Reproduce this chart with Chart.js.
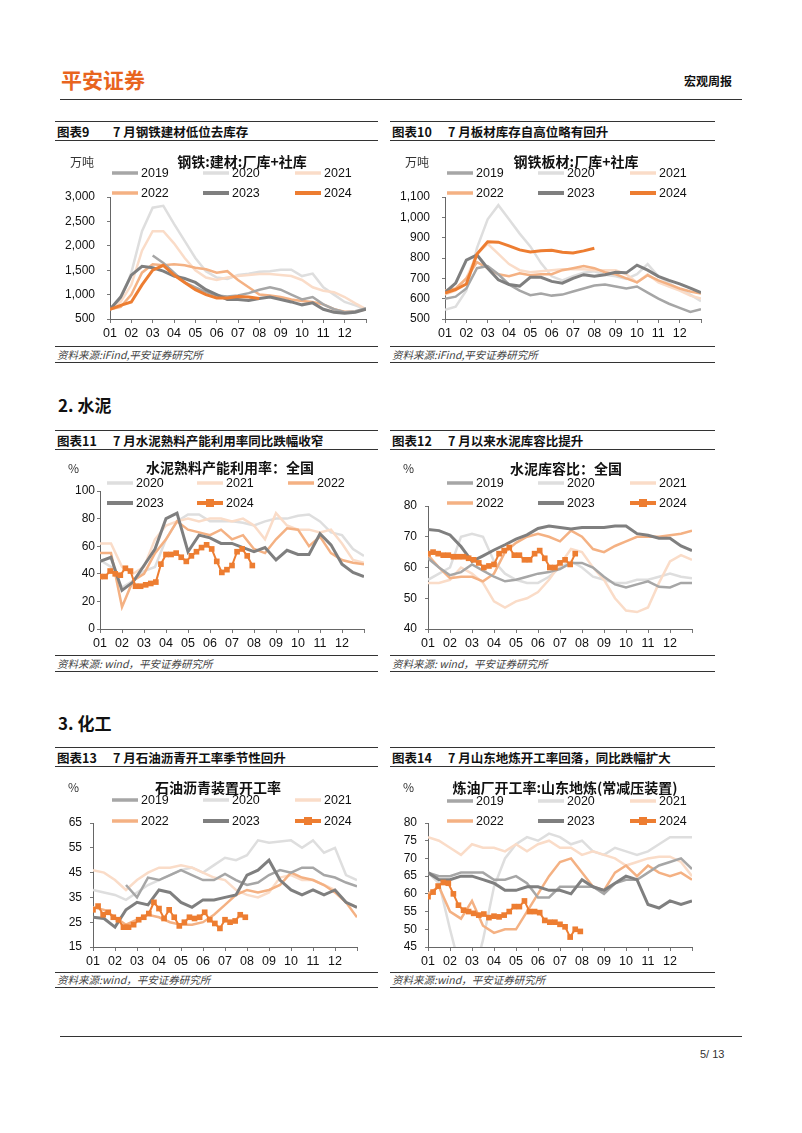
<!DOCTYPE html>
<html>
<head>
<meta charset="utf-8">
<script src="https://cdn.jsdelivr.net/npm/chart.js@4.4.1/dist/chart.umd.min.js"></script>
<style>
  body { margin: 0; background: #fff; }
  #page { position: relative; width: 802px; height: 1133px; overflow: hidden; background: #fff;
          font-family: "Noto Sans CJK SC", "Liberation Sans", sans-serif; color: #222; }
  .t { position: absolute; white-space: nowrap; }
  .rule { position: absolute; height: 0; border-top: 1.5px solid #333; }
  canvas { position: absolute; }
</style>
</head>
<body>
<div id="page"></div>
<script>
// ---- data (semi-monthly points from 01 to year end; 2024 in charts 11-14 is weekly) ----
const years = ['2019', '2020', '2021', '2022', '2023', '2024'];
const monthLabels = ['01', '02', '03', '04', '05', '06', '07', '08', '09', '10', '11', '12'];

// 图表9 钢铁:建材:厂库+社库 (万吨)
const steelBuild2019 = [null, null, null, null, 1800, 1650, 1450, 1250, 1150, 1050, 980, 960, 980, 1030, 1100, 1150, 1100, 1000, 900, 950, 800, 700, 640, 660, 720];
const steelBuild2020 = [700, 900, 1450, 2300, 2780, 2820, 2450, 2100, 1750, 1480, 1350, 1320, 1400, 1430, 1470, 1480, 1510, 1510, 1380, 1430, 1150, 1000, 850, 780, 700];
const steelBuild2021 = [700, 850, 1200, 1900, 2300, 2300, 2050, 1750, 1500, 1350, 1300, 1350, 1380, 1400, 1420, 1420, 1400, 1380, 1300, 1150, 1080, 1050, 950, 820, 700];
const steelBuild2022 = [700, 750, 1000, 1450, 1620, 1600, 1620, 1600, 1550, 1520, 1450, 1480, 1300, 1150, 1000, 980, 950, 900, 870, 850, 800, 700, 650, 650, 700];
const steelBuild2023 = [700, 950, 1400, 1580, 1550, 1480, 1380, 1330, 1250, 1100, 1000, 900, 900, 880, 920, 950, 900, 850, 790, 830, 700, 640, 620, 640, 700];
const steelBuild2024 = [700, 780, 850, 1200, 1500, 1600, 1400, 1250, 1100, 1000, 930, 930, 960, 950, 920];

// 图表10 钢铁板材:厂库+社库 (万吨)
const plate2019 = [600, 610, 650, 750, 760, 720, 670, 640, 617, 625, 615, 620, 635, 650, 665, 670, 660, 650, 660, 630, 600, 575, 555, 535, 548];
const plate2020 = [545, 560, 640, 850, 990, 1060, 990, 920, 857, 775, 710, 690, 710, 727, 735, 718, 710, 697, 720, 770, 710, 677, 645, 620, 587];
const plate2021 = [620, 640, 700, 820, 870, 820, 770, 740, 730, 735, 740, 745, 745, 745, 740, 740, 740, 720, 680, 720, 680, 660, 640, 615, 600];
const plate2022 = [640, 650, 700, 780, 750, 720, 710, 725, 715, 720, 720, 740, 750, 760, 750, 730, 720, 700, 680, 715, 690, 670, 650, 635, 625];
const plate2023 = [630, 677, 790, 815, 750, 693, 670, 662, 705, 705, 685, 676, 700, 718, 710, 718, 730, 727, 765, 740, 710, 690, 673, 652, 630];
const plate2024 = [628, 645, 672, 820, 880, 878, 860, 840, 830, 836, 838, 828, 825, 835, 848];

// 图表11 水泥熟料产能利用率：全国 (%)
const clinker2020 = [50, 45, 30, 35, 42, 45, 65, 78, 83, 83, 78, 78, 78, 77, 75, 78, 80, 80, 82, 83, 78, 70, 68, 58, 53];
const clinker2021 = [62, 62, 45, 40, 45, 65, 75, 78, 80, 78, 80, 80, 78, 80, 75, 65, 84, 75, 72, 72, 70, 72, 62, 50, 48];
const clinker2022 = [55, 55, 16, 35, 40, 55, 65, 78, 72, 70, 68, 72, 65, 68, 58, 55, 65, 73, 72, 60, 67, 55, 50, 48, 47];
const clinker2023 = [49, 52, 28, 34, 46, 58, 80, 84, 56, 68, 66, 62, 62, 59, 56, 59, 50, 57, 54, 54, 69, 61, 47, 41, 38];
const clinker2024 = [38, 38, 42, 40, 39, 44, 42, 31, 31, 32, 33, 34, 47, 54, 54, 55, 52, 49, 53, 56, 59, 61, 58, 49, 41, 43, 46, 56, 58, 53, 46];

// 图表12 水泥库容比：全国 (%)
const storage2019 = [63, 60, 57.5, 58.5, 61, 59, 57, 55.5, 56, 57, 58, 58.5, 59.5, 61.5, 61.5, 60, 57, 54.5, 53.5, 54.5, 55.5, 53.7, 53.5, 55, 55];
const storage2020 = [56, 58, 60, 70, 71, 70, 62, 58, 56, 55, 55, 57, 60, 62, 60, 57, 56, 55, 55, 56, 56, 57, 58, 57, 56.5];
const storage2021 = [55, 55, 56, 60, 58, 55, 49, 47, 49, 50, 52, 56, 61, 66, 65, 60, 56, 50, 46, 45.5, 47, 55, 62, 64, 62.5];
const storage2022 = [64, 60, 56.5, 57, 57, 55.5, 58, 65, 68, 70, 71, 70, 68.5, 72, 70, 66, 65, 67, 68.5, 70, 70, 70, 70.5, 71, 72];
const storage2023 = [72.4, 72, 70.6, 66.8, 62, 63.8, 65.7, 67.4, 69.2, 70.6, 72.7, 73.5, 73, 72.5, 73, 73, 73, 73.5, 73.5, 71, 70.5, 69.5, 69.5, 67, 65.5];
const storage2024 = [64.5, 65, 64.5, 64, 64, 63.5, 63.5, 63.5, 63, 62.5, 61.5, 60, 60.5, 61, 64.5, 65.5, 66.5, 64, 64, 62.5, 62.5, 64.5, 65.5, 63, 60, 60, 61.5, 62.5, 61, 64.5];

// 图表13 石油沥青装置开工率 (%)
const asphalt2019 = [null, null, null, 40, 35, 43, 42, 44, 46, 44, 42, 42, 44.5, 42, 40, 41, 44, 46, 45, 47, 47, 44, 43, 41, 39.5];
const asphalt2020 = [38, 37, 36, 34, 37, 40, 42, 44, 46, 47, 45, 48, 51, 50, 52, 58, 57, 57.5, 58, 55, 58, 53, 55, 44, 42];
const asphalt2021 = [46, 45, 42, 38, 42, 45, 47, 47, 48, 47, 45, 43, 42, 38, 36, 35, 37, 43, 44, 42, 42, 40, 38, 33, 31];
const asphalt2022 = [31, 30, 27, 24, 26, 28, 27, 25, 24, 24, 25, 28, 32, 36, 38, 37, 38, 40, 45, 43, 42, 40, 37, 33, 27];
const asphalt2023 = [27, 26.5, 23, 30, 33, 32, 38, 37, 33, 31, 34, 34, 35, 36, 44, 46, 50, 42, 38, 36, 38, 36, 38, 33, 31];
const asphalt2024 = [30, 31.5, 28, 29, 27, 26, 23, 23, 24, 26, 27, 28.5, 33, 30.5, 26.5, 30, 27, 23.5, 25, 27, 26.5, 27, 29, 26, 24.5, 22.5, 26, 25, 25.5, 28, 27];

// 图表14 炼油厂开工率:山东地炼(常减压装置) (%)
const refinery2019 = [66, 65, 65, 66, 66, 66, 64, 64, 65, 63, 59, 59, 62, 62, 62, 62, 60, 63, 64, 64, 66, 68, 69, 70, 67];
const refinery2020 = [66, 63, 50, 38, 35, 47, 62, 70, 74, 76, 75, 77, 76, 74, 75, 72, 71, 73, 72, 71, 72, 74, 76, 76, 76];
const refinery2021 = [76, 75, 73, 71, 74, 73, 73, 72, 74, 72, 74, 75, 73, 73, 71, 72, 71, 70, 68, 69, 70, 70.5, 70.5, 69, 65];
const refinery2022 = [60, 62, 55, 53, 58, 51, 49, 50, 50, 55, 60, 65, 69, 70, 66, 62, 61, 66, 68, 65, 68, 66, 65, 66, 64];
const refinery2023 = [66, 64, 64, 65, 65, 64, 63, 61, 61, 62, 62, 61, 61, 60, 64, 62, 61, 63, 65, 64, 57, 56, 58, 57, 58];
const refinery2024 = [59.2, 60.5, 62.2, 63.2, 63, 60, 56.8, 55.4, 55, 54.5, 54, 54.3, 53.3, 53.7, 53.5, 54, 55, 56.4, 56.4, 58, 55, 55, 54.7, 52.5, 52, 52, 51.4, 50.7, 47.8, 50, 49.4];

// ---- styling ----
const NUM = '"Liberation Sans", Arial, "Noto Sans CJK SC", sans-serif';
const CJK = '"Noto Sans CJK SC", "Liberation Sans", sans-serif';
const HALF = 0.5, WEEK = 12 / 52;
const yearStyle = {
  '2019': { color: '#A6A6A6', width: 2.5 },
  '2020': { color: '#DEDEDE', width: 2.5 },
  '2021': { color: '#FADCC8', width: 2.5 },
  '2022': { color: '#F4B183', width: 2.5 },
  '2023': { color: '#7F7F7F', width: 3 },
  '2024': { color: '#ED7D31', width: 3 }
};
const drawOrder = { '2024': 0, '2023': 1, '2019': 2, '2022': 3, '2021': 4, '2020': 5 };

const page = document.getElementById('page');

function text(str, x, cy, size, css) {
  const d = document.createElement('div');
  d.className = 't';
  d.textContent = str;
  d.style.left = x + 'px';
  d.style.top = (cy - size * 0.7) + 'px';
  d.style.fontSize = size + 'px';
  d.style.lineHeight = (size * 1.4) + 'px';
  if (css) Object.assign(d.style, css);
  page.appendChild(d);
  return d;
}
function rule(x0, x1, y, w, color) {
  const d = document.createElement('div');
  d.className = 'rule';
  d.style.left = x0 + 'px';
  d.style.width = (x1 - x0) + 'px';
  d.style.top = (y - w / 2) + 'px';
  d.style.borderTop = w + 'px solid ' + (color || '#333');
  page.appendChild(d);
}

// page header / footer
text('平安证券', 61, 80, 21, { fontWeight: 'bold', color: '#E8641E' });
text('宏观周报', 684, 81, 12, { fontWeight: 'bold', color: '#111' });
rule(60, 742, 100, 1.5, '#333');
rule(60, 742, 1036, 1, '#333');
text('5/ 13', 700, 1055, 11, { fontFamily: NUM, color: '#333' });

text('2.  水泥', 58, 405, 17, { fontWeight: 'bold', color: '#111' });
text('3.  化工', 58, 723, 17, { fontWeight: 'bold', color: '#111' });

// panel frames: title bar and source line
const panels = [
  { x0: 55, x1: 378, bar: [122, 141], src: [347, 363], num: '图表9', title: '7 月钢铁建材低位去库存', source: '资料来源:iFind,平安证券研究所' },
  { x0: 390, x1: 715, bar: [122, 141], src: [347, 363], num: '图表10', title: '7 月板材库存自高位略有回升', source: '资料来源:iFind,平安证券研究所' },
  { x0: 55, x1: 378, bar: [431, 450], src: [656, 672], num: '图表11', title: '7 月水泥熟料产能利用率同比跌幅收窄', source: '资料来源: wind，平安证券研究所' },
  { x0: 390, x1: 715, bar: [431, 450], src: [656, 672], num: '图表12', title: '7 月以来水泥库容比提升', source: '资料来源: wind，平安证券研究所' },
  { x0: 55, x1: 378, bar: [748, 767], src: [973, 988], num: '图表13', title: '7 月石油沥青开工率季节性回升', source: '资料来源:wind，平安证券研究所' },
  { x0: 390, x1: 715, bar: [748, 767], src: [973, 988], num: '图表14', title: '7 月山东地炼开工率回落，同比跌幅扩大', source: '资料来源:wind，平安证券研究所' }
];
panels.forEach(p => {
  rule(p.x0, p.x1, p.bar[0], 1.5);
  rule(p.x0, p.x1, p.bar[1], 1.5);
  rule(p.x0, p.x1, p.src[0], 1.5);
  rule(p.x0, p.x1, p.src[1], 1.5);
  const cy = (p.bar[0] + p.bar[1]) / 2;
  text(p.num, p.x0 + 2, cy, 12.5, { fontWeight: 'bold', color: '#111' });
  text(p.title, p.x0 + 58, cy, 12.5, { fontWeight: 'bold', color: '#111' });
  text(p.source, p.x0 + 2, (p.src[0] + p.src[1]) / 2, 10.5, { fontStyle: 'italic', color: '#444' });
});

// ---- charts ----
const panelPlugin = {
  id: 'panel',
  afterDraw(chart, args, o) {
    const ctx = chart.ctx;
    ctx.save();
    ctx.textBaseline = 'middle';
    ctx.fillStyle = '#111';
    ctx.textAlign = 'center';
    ctx.font = 'bold 14px ' + CJK;
    ctx.fillText(o.title, o.tx - o.ox, o.ty - o.oy);
    ctx.textAlign = 'left';
    ctx.font = '12px ' + CJK;
    ctx.fillStyle = '#333';
    ctx.fillText(o.unit, o.ux - o.ox, o.uy - o.oy);
    chart.data.datasets.forEach((ds, i) => {
      const x = o.cols[i % 3] - o.ox;
      const y = o.rows[Math.floor(i / 3)] - o.oy;
      ctx.strokeStyle = ds.borderColor;
      ctx.lineWidth = ds.label >= '2023' ? 4 : 3.5;
      ctx.beginPath();
      ctx.moveTo(x, y);
      ctx.lineTo(x + 26, y);
      ctx.stroke();
      if (ds.pointRadius > 0) {
        ctx.fillStyle = ds.borderColor;
        ctx.fillRect(x + 9, y - 4, 8, 8);
      }
      ctx.fillStyle = '#111';
      ctx.font = '12.5px ' + NUM;
      ctx.fillText(ds.label, x + 29, y + 0.5);
    });
    ctx.restore();
  }
};

function pts(values, step) {
  return values.map((v, i) => ({ x: 1 + i * step, y: v }));
}

function makeChart(c) {
  const [bx, by, bw, bh] = c.box;
  const [pl, pt, pr, pb] = c.plot;
  const cv = document.createElement('canvas');
  cv.width = bw; cv.height = bh;
  cv.style.left = bx + 'px'; cv.style.top = by + 'px';
  cv.style.width = bw + 'px'; cv.style.height = bh + 'px';
  page.appendChild(cv);

  const datasets = c.series.map(([label, values, step, marker]) => {
    const st = yearStyle[label];
    return {
      label: label,
      data: pts(values, step),
      borderColor: st.color,
      backgroundColor: st.color,
      borderWidth: marker ? 2 : st.width,
      pointRadius: marker ? 4 : 0,
      pointStyle: 'rect',
      pointBorderWidth: 0,
      pointBackgroundColor: st.color,
      tension: 0,
      spanGaps: false,
      order: drawOrder[label]
    };
  });

  new Chart(cv, {
    type: 'line',
    data: { datasets: datasets },
    plugins: [panelPlugin],
    options: {
      responsive: false,
      animation: false,
      devicePixelRatio: 1,
      layout: { padding: { left: 0, top: pt - by, right: bx + bw - pr, bottom: 0 } },
      plugins: {
        legend: { display: false },
        tooltip: { enabled: false },
        panel: {
          ox: bx, oy: by, title: c.title, tx: c.tx, ty: c.ty,
          unit: c.unit, ux: c.ux, uy: c.uy, cols: c.cols, rows: c.rows
        }
      },
      scales: {
        x: {
          type: 'linear', min: 1, max: 13,
          afterFit: s => { s.height = by + bh - pb; },
          grid: { drawOnChartArea: false, drawTicks: true, tickLength: 4, color: '#777' },
          border: { display: true, color: '#666', width: 1 },
          ticks: {
            stepSize: 1, autoSkip: false, maxRotation: 0, padding: 3,
            color: '#111', font: { family: NUM, size: 12.5 },
            callback: v => (v >= 1 && v <= 12) ? monthLabels[v - 1] : ''
          }
        },
        y: {
          min: c.y[0], max: c.y[1],
          afterFit: s => { s.width = pl - bx; },
          grid: { drawOnChartArea: false, drawTicks: true, tickLength: 3, color: '#777' },
          border: { display: true, color: '#666', width: 1 },
          ticks: {
            stepSize: c.y[2], autoSkip: false, padding: c.gap - 3,
            color: '#111', font: { family: NUM, size: 12 },
            callback: v => c.comma ? v.toLocaleString('en-US') : String(v)
          }
        }
      }
    }
  });
}

const charts = [
  { box: [55, 143, 323, 203], plot: [110, 197, 366, 319], y: [500, 3000, 500], gap: 15, comma: true,
    title: '钢铁:建材:厂库+社库', tx: 242, ty: 162, unit: '万吨', ux: 70, uy: 162,
    cols: [112, 203, 295], rows: [173, 193],
    series: [['2019', steelBuild2019, HALF], ['2020', steelBuild2020, HALF], ['2021', steelBuild2021, HALF],
             ['2022', steelBuild2022, HALF], ['2023', steelBuild2023, HALF], ['2024', steelBuild2024, HALF]] },
  { box: [390, 143, 325, 203], plot: [445, 197, 701, 319], y: [500, 1100, 100], gap: 15, comma: true,
    title: '钢铁板材:厂库+社库', tx: 576, ty: 162, unit: '万吨', ux: 405, uy: 162,
    cols: [447, 538, 630], rows: [173, 193],
    series: [['2019', plate2019, HALF], ['2020', plate2020, HALF], ['2021', plate2021, HALF],
             ['2022', plate2022, HALF], ['2023', plate2023, HALF], ['2024', plate2024, HALF]] },
  { box: [55, 452, 323, 203], plot: [100, 491, 364, 629], y: [0, 100, 20], gap: 5,
    title: '水泥熟料产能利用率：全国', tx: 230, ty: 468, unit: '%', ux: 68, uy: 468,
    cols: [107, 197, 288], rows: [483, 503],
    series: [['2020', clinker2020, HALF], ['2021', clinker2021, HALF], ['2022', clinker2022, HALF],
             ['2023', clinker2023, HALF], ['2024', clinker2024, WEEK, true]] },
  { box: [390, 452, 325, 203], plot: [428, 506, 692, 629], y: [40, 80, 10], gap: 11,
    title: '水泥库容比：全国', tx: 566, ty: 469, unit: '%', ux: 403, uy: 468,
    cols: [447, 538, 630], rows: [483, 503],
    series: [['2019', storage2019, HALF], ['2020', storage2020, HALF], ['2021', storage2021, HALF],
             ['2022', storage2022, HALF], ['2023', storage2023, HALF], ['2024', storage2024, WEEK, true]] },
  { box: [55, 769, 323, 203], plot: [93, 823, 357, 947], y: [15, 65, 10], gap: 11,
    title: '石油沥青装置开工率', tx: 218, ty: 788, unit: '%', ux: 68, uy: 787,
    cols: [112, 203, 295], rows: [800, 821],
    series: [['2019', asphalt2019, HALF], ['2020', asphalt2020, HALF], ['2021', asphalt2021, HALF],
             ['2022', asphalt2022, HALF], ['2023', asphalt2023, HALF], ['2024', asphalt2024, WEEK, true]] },
  { box: [390, 769, 325, 203], plot: [428, 823, 692, 947], y: [45, 80, 5], gap: 11,
    title: '炼油厂开工率:山东地炼(常减压装置)', tx: 565, ty: 788, unit: '%', ux: 403, uy: 787,
    cols: [447, 538, 630], rows: [801, 821],
    series: [['2019', refinery2019, HALF], ['2020', refinery2020, HALF], ['2021', refinery2021, HALF],
             ['2022', refinery2022, HALF], ['2023', refinery2023, HALF], ['2024', refinery2024, WEEK, true]] }
];

charts.forEach(makeChart);
</script>
</body>
</html>
